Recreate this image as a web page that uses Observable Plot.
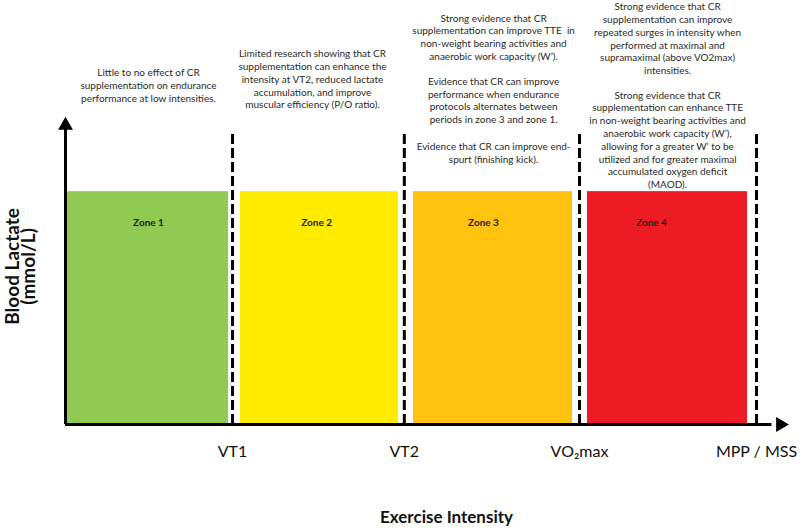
<!DOCTYPE html>
<html>
<head>
<meta charset="utf-8">
<script src="https://cdn.jsdelivr.net/npm/d3@7"></script>
<script src="https://cdn.jsdelivr.net/npm/@observablehq/plot@0.6"></script>
<style>
  html, body { margin: 0; padding: 0; background: #fff; }
  #chart { width: 800px; height: 529px; }
</style>
</head>
<body>
<div id="chart"></div>
<script>
// ---- Data ----
const zoneNames = ["Zone 1", "Zone 2", "Zone 3", "Zone 4"];
const zoneColors = ["#92c953", "#ffec00", "#ffc20e", "#ed1c24"];
const zoneStart = [0.012, 1.033, 2.054, 3.081];
const zoneEnd = [0.962, 1.966, 2.993, 4.026];
const zoneLevel = [7.66, 7.66, 7.66, 7.66];
const zoneLabelX = [0.49, 1.482, 2.467, 3.459];
const zoneLabelY = [6.64, 6.64, 6.64, 6.64];

const thresholdLabels = ["VT1", "VT2", "VO₂max", "MPP / MSS"];
const thresholdPos = [0.986, 2.0, 3.034, 4.079];
const thresholdTop = [9.6, 9.6, 9.6, 9.6];

const noteX = [0.49, 1.458, 2.527, 2.527, 2.527, 3.554, 3.554];
const noteY = [11.76, 12.38, 13.55, 11.47, 9.33, 13.93, 11.02];
const noteText = [
  "Little to no effect of CR\nsupplementation on endurance\nperformance at low intensities.",
  "Limited research showing that CR\nsupplementation can enhance the\nintensity at VT2, reduced lactate\naccumulation, and improve\nmuscular efficiency (P/O ratio).",
  "Strong evidence that CR\nsupplementation can improve TTE  in\nnon-weight bearing activities and\nanaerobic work capacity (W’).",
  "Evidence that CR can improve\nperformance when endurance\nprotocols alternates between\nperiods in zone 3 and zone 1.",
  "Evidence that CR can improve end-\nspurt (finishing kick).",
  "Strong evidence that CR\nsupplementation can improve\nrepeated surges in intensity when\nperformed at maximal and\nsupramaximal (above VO2max)\nintensities.",
  "Strong evidence that CR\nsupplementation can enhance TTE\nin non-weight bearing activities and\nanaerobic work capacity (W’),\nallowing for a greater W’ to be\nutilized and for greater maximal\naccumulated oxygen deficit\n(MAOD)."
];

const xTitle = "Exercise Intensity";
const yTitle = "Blood Lactate\n(mmol/L)";
const xTitlePos = {x: 2.249, y: -3.06};
const yTitlePos = {x: -0.26, y: 5.2};
const xMax = 4.25;
const yMax = 10;
const xAxisEnd = 4.17;
const yAxisEnd = 9.7;
const arrowPos = [{x: 4.22, y: 0, rot: 90}, {x: 0, y: 9.84, rot: 0}];

// ---- Build tables ----
const zones = zoneNames.map((name, i) => ({
  name, color: zoneColors[i], x1: zoneStart[i], x2: zoneEnd[i], top: zoneLevel[i],
  lx: zoneLabelX[i], ly: zoneLabelY[i]
}));
const thresholds = thresholdLabels.map((label, i) => ({label, pos: thresholdPos[i], top: thresholdTop[i]}));
const notes = noteText.map((text, i) => ({text, x: noteX[i], y: noteY[i]}));

const font = "Lato, 'Open Sans', sans-serif";

const chart = Plot.plot({
  width: 800,
  height: 529,
  marginLeft: 65,
  marginRight: 15,
  marginTop: 120,
  marginBottom: 105,
  x: {domain: [0, xMax], axis: null},
  y: {domain: [0, yMax], axis: null},
  style: {fontFamily: font, background: "#fff", overflow: "visible"},
  marks: [
    Plot.rectY(zones, {x1: "x1", x2: "x2", y1: 0, y2: "top", fill: "color"}),
    Plot.ruleX(thresholds, {x: "pos", y1: 0, y2: "top", stroke: "#000", strokeWidth: 3, strokeDasharray: "10,4"}),
    Plot.ruleY([0], {x1: 0, x2: xAxisEnd, stroke: "#000", strokeWidth: 3}),
    Plot.ruleX([0], {y1: 0, y2: yAxisEnd, stroke: "#000", strokeWidth: 3}),
    Plot.dot(arrowPos, {x: "x", y: "y", rotate: "rot", symbol: "triangle", r: 5.5, fill: "#000", stroke: null}),
    Plot.text(zones, {x: "lx", y: "ly", text: "name", fontSize: 10, fontWeight: "bold", fill: "#222"}),
    Plot.text(notes, {x: "x", y: "y", text: "text", lineAnchor: "top", fontSize: 10, lineHeight: 1.28, fill: "#2a2a2a"}),
    Plot.text(thresholds, {x: "pos", text: "label", frameAnchor: "bottom", dy: 32, fontSize: 16, fill: "#111"}),
    Plot.text([xTitle], {x: () => xTitlePos.x, y: () => xTitlePos.y, textAnchor: "middle", fontSize: 17, fontWeight: "bold", fill: "#111"}),
    Plot.text([yTitle], {x: () => yTitlePos.x, y: () => yTitlePos.y, textAnchor: "middle", lineAnchor: "middle", rotate: -90, fontSize: 19, fontWeight: "bold", lineHeight: 0.85, fill: "#111"})
  ]
});
document.getElementById("chart").appendChild(chart);
</script>
</body>
</html>
